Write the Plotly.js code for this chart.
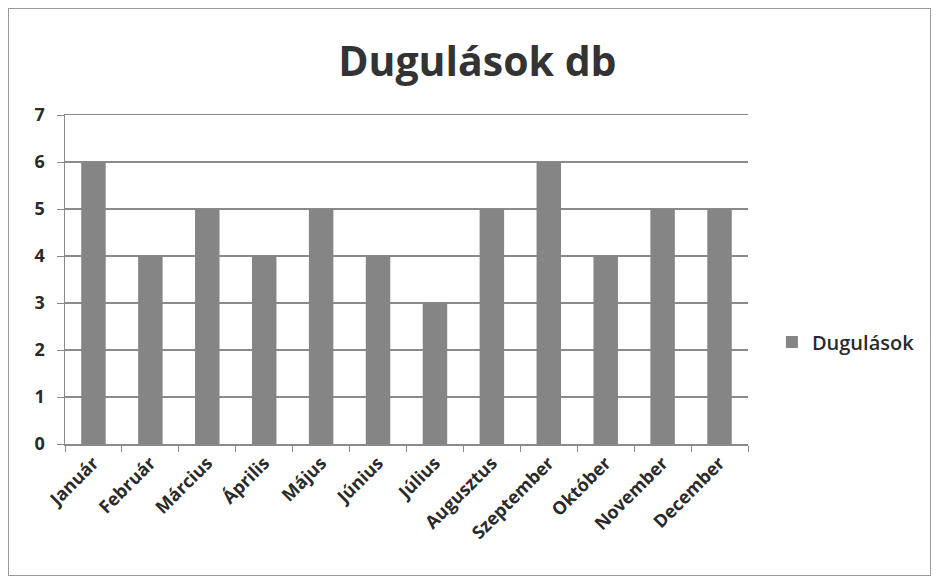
<!DOCTYPE html>
<html>
<head>
<meta charset="utf-8">
<script src="https://cdn.plot.ly/plotly-3.0.1.min.js"></script>
<style>
  html, body { margin: 0; padding: 0; background: #fff; }
  #wrap { position: relative; width: 936px; height: 584px; }
  #chart { width: 936px; height: 584px; }
  #frame { position: absolute; left: 8px; top: 8px; width: 921px; height: 566px;
           border: 1.5px solid #9a9a9a; pointer-events: none; }
</style>
</head>
<body>
<div id="wrap">
  <div id="chart"></div>
  <div id="frame"></div>
</div>
<script>
const months = ["Január", "Február", "Március", "Április", "Május", "Június",
                "Július", "Augusztus", "Szeptember", "Október", "November", "December"];
const dugulasok = [6, 4, 5, 4, 5, 4, 3, 5, 6, 4, 5, 5];
const seriesName = "Dugulások";
const chartTitle = "Dugulások db";
const yTicks = [0, 1, 2, 3, 4, 5, 6, 7];

const FONT = "Open Sans, Noto Sans, sans-serif";

const trace = {
  type: "bar",
  x: months,
  y: dugulasok,
  name: seriesName,
  marker: { color: "#858585", line: { width: 0 } },
  showlegend: true
};

const layout = {
  width: 936,
  height: 584,
  margin: { l: 65, r: 188, t: 115, b: 140 },
  paper_bgcolor: "#ffffff",
  plot_bgcolor: "#ffffff",
  bargap: 0.57,
  title: {
    text: "<b>" + chartTitle + "</b>",
    font: { family: FONT, size: 41, color: "#333333" },
    x: 0.51, xanchor: "center",
    y: 0.895, yanchor: "middle"
  },
  xaxis: {
    type: "category",
    tickangle: -45,
    tickfont: { family: FONT, size: 18, color: "#2a2a2a", weight: "bold" },
    ticks: "outside",
    tickson: "boundaries",
    ticklen: 6,
    tickcolor: "#8a8a8a",
    showline: true,
    mirror: true,
    linecolor: "#8a8a8a",
    linewidth: 1.5,
    showgrid: false,
    automargin: false
  },
  yaxis: {
    range: [0, 7],
    tickvals: yTicks,
    tickfont: { family: FONT, size: 18, color: "#2a2a2a", weight: "bold" },
    ticks: "outside",
    ticklen: 7,
    ticklabelstandoff: 8,
    tickcolor: "#8a8a8a",
    showline: true,
    linecolor: "#8a8a8a",
    linewidth: 1.5,
    showgrid: true,
    gridcolor: "#8a8a8a",
    gridwidth: 1.5,
    zeroline: false,
    automargin: false
  },
  legend: {
    x: 1.035, xanchor: "left",
    y: 0.31, yanchor: "middle",
    font: { family: FONT, size: 20, color: "#2a2a2a", weight: 600 },
    itemwidth: 30,
    bgcolor: "rgba(0,0,0,0)"
  },
  showlegend: true
};

Plotly.newPlot("chart", [trace], layout, { displayModeBar: false, staticPlot: true });
</script>
</body>
</html>
